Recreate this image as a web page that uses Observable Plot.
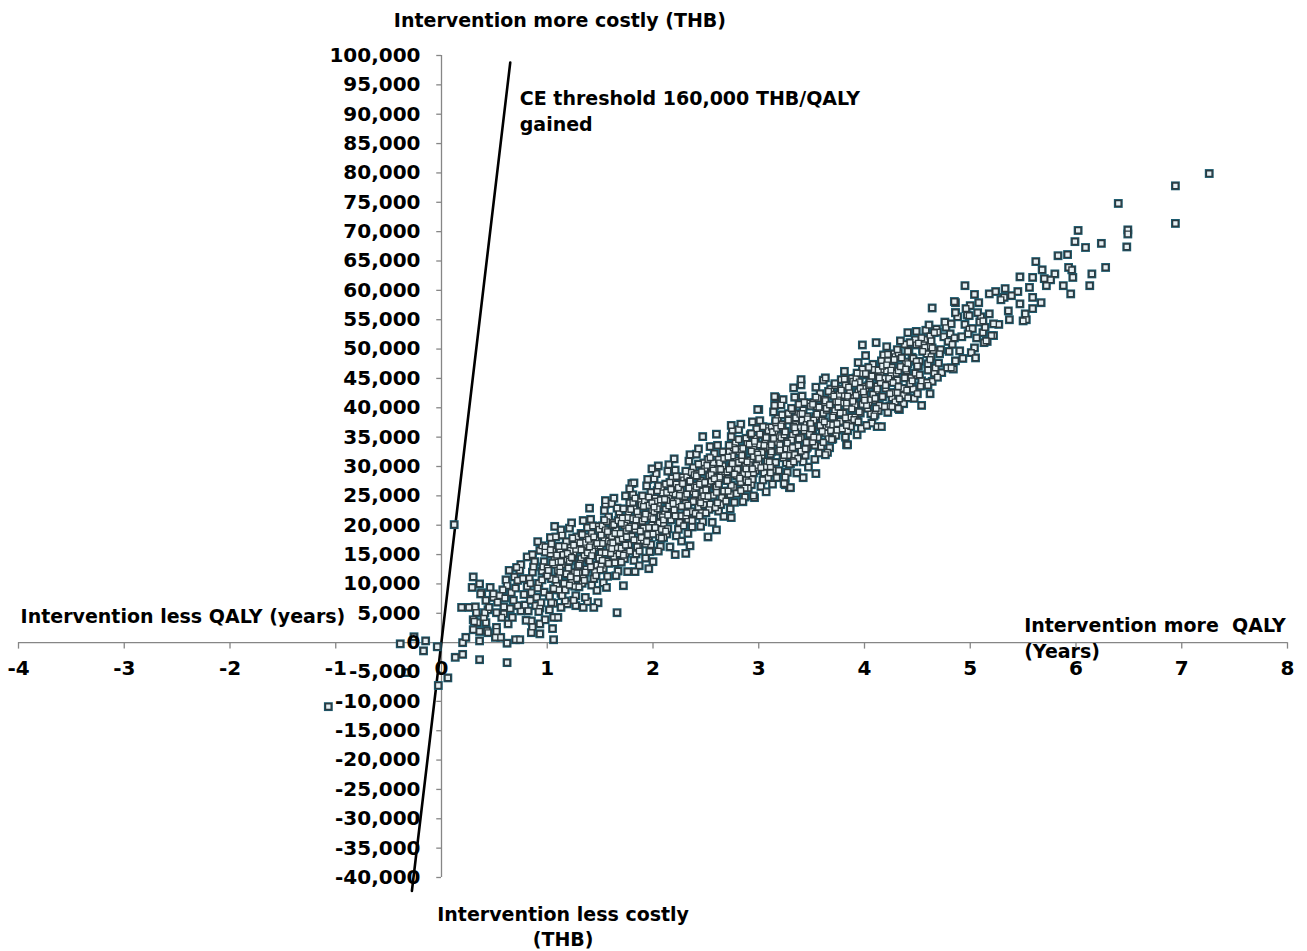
<!DOCTYPE html>
<html>
<head>
<meta charset="utf-8">
<script src="https://cdn.jsdelivr.net/npm/d3@7"></script>
<script src="https://cdn.jsdelivr.net/npm/@observablehq/plot@0.6"></script>
<style>
  html, body { margin: 0; padding: 0; background: #fff; }
  #chart svg { display: block; }
</style>
</head>
<body>
<div id="chart"></div>
<script>
// Incremental QALY (years) vs incremental cost (thousand THB)
const nearOrigin = [[-1.07,-10.9],[-0.39,-0.2],[-0.26,1.0],[-0.15,0.3],[-0.17,-1.4],[-0.04,-0.7],[0.06,-6.0],[-0.03,-7.3],[-0.34,-5.1],[0.13,-2.5],[0.2,-2.0],[0.36,-2.9],[0.62,-3.4],[0.12,20.1],[0.2,0.0],[0.23,0.9],[0.36,0.3],[0.51,0.9],[0.56,0.9],[0.62,-0.1],[0.7,0.5],[0.74,0.5],[1.06,0.5]];

const lowCloud = [[0.3,11.2],[0.36,10.0],[0.29,9.4],[0.38,8.5],[0.19,6.0],[0.26,6.0],[0.32,6.1],[0.33,5.1],[0.3,3.9],[0.34,3.4],[0.3,2.2],[0.36,1.9],[0.43,2.0],[0.42,3.4],[0.46,9.4],[0.49,7.7],[0.42,7.2],[0.44,5.6],[0.4,4.3],[0.52,2.6],[0.59,4.9],[0.63,3.2],[0.64,12.3],[0.61,10.7],[0.62,9.7],[0.69,11.2],[0.75,13.3],[0.81,14.6],[0.86,14.8],[0.93,15.7],[0.95,16.5],[0.91,17.2],[0.98,16.3],[1.03,17.9],[1.07,19.8],[1.08,18.0],[0.75,5.4],[0.72,6.3],[0.85,3.7],[0.86,2.7],[0.93,3.2],[0.98,3.9],[1.06,4.3],[1.1,4.3],[1.19,6.6],[1.27,6.3],[1.34,6.0],[1.38,7.0],[1.48,6.8],[1.44,6.0],[1.66,5.1],[1.05,2.4],[0.93,1.5],[0.85,1.7],[0.31,3.6],[0.37,8.3],[0.41,5.1],[0.44,1.7],[0.52,1.9],[0.57,4.3],[0.67,4.3],[0.45,6.0],[0.52,5.1],[0.59,6.1],[0.49,8.3],[0.55,8.0],[0.66,8.5],[0.72,10.6],[0.74,12.3],[1.13,19.2],[0.53,6.9],[0.58,9.0],[0.68,7.2],[0.7,9.3],[0.78,8.2],[0.77,10.9],[0.65,5.8],[0.79,6.4],[0.6,7.6],[0.71,12.8]];

const cloud1 = [
[0.81,9.6],[0.84,7.2],[0.86,12.0],[0.82,5.4],[0.88,13.8],[0.85,8.5],[0.83,10.9],[0.89,6.3],[0.87,12.9],[0.8,3.8],[0.86,15.0],[0.84,10.1],
[0.92,10.1],[0.95,12.2],[0.9,7.7],[0.97,13.8],[0.93,5.9],[0.99,11.4],[0.91,9.3],[0.96,12.9],[0.94,6.8],[0.98,15.4],[0.92,5.3],[0.95,10.7],[0.97,8.6],
[1.0,12.7],[1.04,10.9],[1.02,8.1],[1.07,14.4],[1.05,15.6],[1.09,9.7],[1.01,12.0],[1.06,6.7],[1.03,15.1],[1.08,9.0],[1.04,16.8],[1.0,11.4],[1.07,13.3],[1.02,5.6],[1.09,13.7],
[1.11,11.1],[1.14,13.3],[1.12,15.7],[1.16,9.7],[1.1,12.3],[1.18,17.2],[1.13,8.4],[1.19,14.2],[1.15,15.0],[1.11,9.0],[1.17,7.1],[1.14,18.3],[1.12,12.7],[1.19,11.6],[1.16,16.4],[1.13,6.0],
[1.21,13.9],[1.24,11.5],[1.22,16.2],[1.26,9.6],[1.28,18.0],[1.2,12.7],[1.25,15.0],[1.23,10.5],[1.29,17.1],[1.27,8.0],[1.21,19.5],[1.24,14.4],[1.26,12.0],[1.22,15.7],[1.28,10.9],[1.25,7.2],[1.23,20.4],
[1.32,14.3],[1.35,16.4],[1.3,11.9],[1.37,18.0],[1.33,10.1],[1.39,15.6],[1.31,13.5],[1.36,17.1],[1.34,11.0],[1.38,19.6],[1.3,9.5],[1.35,14.9],[1.33,15.8],[1.37,12.5],[1.32,18.6],[1.39,14.0],[1.34,20.8],[1.36,7.7],
[1.41,16.9],[1.43,15.1],[1.46,12.3],[1.42,18.6],[1.48,19.8],[1.4,13.9],[1.45,16.2],[1.44,10.9],[1.49,19.3],[1.47,13.2],[1.41,21.0],[1.43,15.6],[1.46,17.5],[1.42,9.8],[1.48,16.5],[1.45,12.1],[1.4,22.9],[1.47,8.9],
[1.51,15.3],[1.54,17.5],[1.52,19.9],[1.56,13.9],[1.5,16.5],[1.58,21.4],[1.53,12.6],[1.59,18.4],[1.55,19.2],[1.51,13.2],[1.57,11.3],[1.54,22.5],[1.52,16.9],[1.59,15.8],[1.56,20.6],[1.53,10.2],[1.58,17.3],[1.55,23.6],
[1.61,18.1],[1.64,15.7],[1.62,20.4],[1.66,13.8],[1.68,22.2],[1.6,16.9],[1.65,19.2],[1.63,14.7],[1.69,21.3],[1.67,12.2],[1.61,23.7],[1.64,18.6],[1.66,16.2],[1.62,19.9],[1.68,15.1],[1.65,11.4],[1.63,24.6],[1.67,17.4],
[1.72,18.5],[1.75,20.6],[1.7,16.1],[1.77,22.2],[1.73,14.3],[1.79,19.8],[1.71,17.7],[1.76,21.3],[1.74,15.2],[1.78,23.8],[1.7,13.7],[1.75,19.1],[1.73,20.0],[1.77,16.7],[1.72,22.8],[1.79,18.2],[1.74,25.0],[1.76,12.1],
[1.81,21.1],[1.83,19.3],[1.86,16.5],[1.82,22.8],[1.88,24.0],[1.8,18.1],[1.85,20.4],[1.84,15.1],[1.89,23.5],[1.87,17.4],[1.81,25.2],[1.83,19.8],[1.86,21.7],[1.82,14.0],[1.88,20.7],[1.85,16.3],[1.8,27.1],[1.87,13.1],
[1.91,19.5],[1.94,21.7],[1.92,24.1],[1.96,18.1],[1.9,20.7],[1.98,25.6],[1.93,16.8],[1.99,22.6],[1.95,23.4],[1.91,17.4],[1.97,15.5],[1.94,26.7],[1.92,21.1],[1.99,20.0],[1.96,24.8],[1.93,14.4],[1.98,21.5],[1.95,27.8]
];

const cloud2 = [
[2.01,22.3],[2.04,19.9],[2.02,24.6],[2.06,18.0],[2.08,26.4],[2.0,21.1],[2.05,23.4],[2.03,18.9],[2.09,25.5],[2.07,16.4],[2.01,27.9],[2.04,22.8],[2.06,20.4],[2.02,24.1],[2.08,19.3],[2.05,15.6],[2.03,28.8],[2.07,21.6],[2.0,13.8],
[2.12,22.7],[2.15,24.8],[2.1,20.3],[2.17,26.4],[2.13,18.5],[2.19,24.0],[2.11,21.9],[2.16,25.5],[2.14,19.4],[2.18,28.0],[2.1,17.9],[2.15,23.3],[2.13,24.2],[2.17,20.9],[2.12,27.0],[2.19,22.4],[2.14,29.2],[2.16,16.3],
[2.21,25.3],[2.23,23.5],[2.26,20.7],[2.22,27.0],[2.28,28.2],[2.2,22.3],[2.25,24.6],[2.24,19.3],[2.29,27.7],[2.27,21.6],[2.21,29.4],[2.23,24.0],[2.26,25.9],[2.22,18.2],[2.28,24.9],[2.25,20.5],[2.2,31.3],[2.27,17.3],
[2.31,23.7],[2.34,25.9],[2.32,28.3],[2.36,22.3],[2.3,24.9],[2.38,29.8],[2.33,21.0],[2.39,26.8],[2.35,27.6],[2.31,21.6],[2.37,19.7],[2.34,30.9],[2.32,25.3],[2.39,24.2],[2.36,29.0],[2.33,18.6],[2.38,25.7],[2.35,32.0],
[2.41,26.5],[2.44,24.1],[2.42,28.8],[2.46,22.2],[2.48,30.6],[2.4,25.3],[2.45,27.6],[2.43,23.1],[2.49,29.7],[2.47,20.6],[2.41,32.1],[2.44,27.0],[2.46,24.6],[2.42,28.3],[2.48,23.5],[2.45,19.8],[2.43,33.0],[2.47,25.8],
[2.52,26.9],[2.55,29.0],[2.5,24.5],[2.57,30.6],[2.53,22.7],[2.59,28.2],[2.51,26.1],[2.56,29.7],[2.54,23.6],[2.58,32.2],[2.5,22.1],[2.55,27.5],[2.53,28.4],[2.57,25.1],[2.52,31.2],[2.59,26.6],[2.54,33.4],[2.56,20.5],
[2.61,29.5],[2.63,27.7],[2.66,24.9],[2.62,31.2],[2.68,32.4],[2.6,26.5],[2.65,28.8],[2.64,23.5],[2.69,31.9],[2.67,25.8],[2.61,33.6],[2.63,28.2],[2.66,30.1],[2.62,22.4],[2.68,29.1],[2.65,24.7],[2.6,35.5],[2.67,21.5],
[2.71,27.9],[2.74,30.1],[2.72,32.5],[2.76,26.5],[2.7,29.1],[2.78,34.0],[2.73,25.2],[2.79,31.0],[2.75,31.8],[2.71,25.8],[2.77,23.9],[2.74,35.1],[2.72,29.5],[2.79,28.4],[2.76,33.2],[2.73,22.8],[2.78,29.9],[2.75,36.2],
[2.81,30.7],[2.84,28.3],[2.82,33.0],[2.86,26.4],[2.88,34.8],[2.8,29.5],[2.85,31.8],[2.83,27.3],[2.89,33.9],[2.87,24.8],[2.81,36.3],[2.84,31.2],[2.86,28.8],[2.82,32.5],[2.88,27.7],[2.85,24.0],[2.83,37.2],[2.87,30.0],
[2.92,31.1],[2.95,33.2],[2.9,28.7],[2.97,34.8],[2.93,26.9],[2.99,32.4],[2.91,30.3],[2.96,33.9],[2.94,27.8],[2.98,36.4],[2.9,26.3],[2.95,31.7],[2.93,32.6],[2.97,29.3],[2.92,35.4],[2.99,30.8],[2.94,37.6],[2.96,24.7]
];

const cloud3 = [
[3.01,33.7],[3.03,31.9],[3.06,29.1],[3.02,35.4],[3.08,36.6],[3.0,30.7],[3.05,33.0],[3.04,27.7],[3.09,36.1],[3.07,30.0],[3.01,37.8],[3.03,32.4],[3.06,34.3],[3.02,26.6],[3.08,33.3],[3.05,28.9],[3.0,39.7],[3.07,25.7],
[3.11,32.1],[3.14,34.3],[3.12,36.7],[3.16,30.7],[3.1,33.3],[3.18,38.2],[3.13,29.4],[3.19,35.2],[3.15,36.0],[3.11,30.0],[3.17,28.1],[3.14,39.3],[3.12,33.7],[3.19,32.6],[3.16,37.4],[3.13,27.0],[3.18,34.1],[3.15,40.4],
[3.21,34.9],[3.24,32.5],[3.22,37.2],[3.26,30.6],[3.28,39.0],[3.2,33.7],[3.25,36.0],[3.23,31.5],[3.29,38.1],[3.27,29.0],[3.21,40.5],[3.24,35.4],[3.26,33.0],[3.22,36.7],[3.28,31.9],[3.25,28.2],[3.23,41.4],[3.27,34.2],
[3.32,35.3],[3.35,37.4],[3.3,32.9],[3.37,39.0],[3.33,31.1],[3.39,36.6],[3.31,34.5],[3.36,38.1],[3.34,32.0],[3.38,40.6],[3.3,30.5],[3.35,35.9],[3.33,36.8],[3.37,33.5],[3.32,39.6],[3.39,35.0],[3.34,41.8],[3.36,28.9],
[3.41,37.9],[3.43,36.1],[3.46,33.3],[3.42,39.6],[3.48,40.8],[3.4,34.9],[3.45,37.2],[3.44,31.9],[3.49,40.3],[3.47,34.2],[3.41,42.0],[3.43,36.6],[3.46,38.5],[3.42,30.8],[3.48,37.5],[3.45,33.1],[3.4,43.9],[3.47,29.9],
[3.51,36.3],[3.54,38.5],[3.52,40.9],[3.56,34.9],[3.5,37.5],[3.58,42.4],[3.53,33.6],[3.59,39.4],[3.55,40.2],[3.51,34.2],[3.57,32.3],[3.54,43.5],[3.52,37.9],[3.59,36.8],[3.56,41.6],[3.53,31.2],
[3.61,39.1],[3.64,36.7],[3.62,41.4],[3.66,34.8],[3.68,43.2],[3.6,37.9],[3.65,40.2],[3.63,35.7],[3.69,42.3],[3.67,33.2],[3.61,44.7],[3.64,39.6],[3.66,37.2],[3.62,40.9],[3.68,36.1],[3.65,32.4],
[3.72,39.5],[3.75,41.6],[3.7,37.1],[3.77,43.2],[3.73,35.3],[3.79,40.8],[3.71,38.7],[3.76,42.3],[3.74,36.2],[3.78,44.8],[3.7,34.7],[3.75,40.1],[3.73,41.0],[3.77,37.7],[3.72,43.8],[3.79,39.2],
[3.81,42.1],[3.83,40.3],[3.86,37.5],[3.82,43.8],[3.88,45.0],[3.8,39.1],[3.85,41.4],[3.84,36.1],[3.89,44.5],[3.87,38.4],[3.81,46.2],[3.83,40.8],[3.86,42.7],[3.82,35.0],[3.88,41.7],[3.85,37.3],
[3.91,40.5],[3.94,42.7],[3.92,45.1],[3.96,39.1],[3.9,41.7],[3.98,46.6],[3.93,37.8],[3.99,43.6],[3.95,44.4],[3.91,38.4],[3.97,36.5],[3.94,47.7],[3.92,42.1],[3.99,41.0],[3.96,45.8],[3.93,35.4]
];

const cloud4 = [
[4.01,43.3],[4.04,40.9],[4.02,45.6],[4.06,39.0],[4.08,47.4],[4.0,42.1],[4.05,44.4],[4.03,39.9],[4.09,46.5],[4.07,37.4],[4.01,48.9],[4.04,43.8],[4.06,41.4],[4.02,37.0],
[4.12,43.7],[4.15,45.8],[4.1,41.3],[4.17,47.4],[4.13,39.5],[4.19,45.0],[4.11,42.9],[4.16,46.5],[4.14,40.4],[4.18,49.0],[4.1,38.9],[4.15,44.3],[4.13,45.2],[4.17,41.9],
[4.21,46.3],[4.23,44.5],[4.26,41.7],[4.22,48.0],[4.28,49.2],[4.2,43.3],[4.25,45.6],[4.24,40.3],[4.29,48.7],[4.27,42.6],[4.21,50.4],[4.23,45.0],[4.26,46.9],[4.22,39.2],
[4.31,44.7],[4.34,46.9],[4.32,49.3],[4.36,43.3],[4.3,45.9],[4.38,50.8],[4.33,42.0],[4.39,47.8],[4.35,48.6],[4.31,42.6],[4.37,40.7],[4.34,51.4],[4.32,46.3],[4.39,45.2],
[4.41,47.5],[4.44,45.1],[4.42,49.8],[4.46,43.2],[4.48,51.6],[4.4,46.3],[4.45,48.6],[4.43,44.1],[4.49,50.7],[4.47,41.6],[4.41,52.8],
[4.52,47.9],[4.55,50.0],[4.5,45.5],[4.57,51.6],[4.53,43.7],[4.59,49.2],[4.51,47.1],[4.56,50.7],[4.54,44.6],[4.58,53.2],[4.5,42.4],
[4.61,50.5],[4.63,48.7],[4.66,45.9],[4.62,52.2],[4.68,53.4],[4.6,47.5],[4.65,49.8],[4.64,44.5],[4.69,52.9],[4.67,46.8],[4.61,54.1],
[4.72,49.9],[4.75,52.1],[4.7,47.6],[4.77,53.7],[4.73,46.0],[4.79,51.3],[4.71,49.2],[4.76,54.6],
[4.81,52.6],[4.83,50.8],[4.86,48.0],[4.82,54.3],[4.88,55.5],[4.8,49.6],[4.85,51.9],[4.84,46.6],
[4.92,52.1],[4.95,54.2],[4.9,49.7],[4.97,55.8],[4.93,48.4],[4.99,53.4],
[5.02,53.5],[5.06,51.9],[5.1,55.5],[5.04,50.2],[5.12,52.8],[5.08,57.9],[4.98,52.6],[5.14,53.7],[5.01,49.4],[5.09,54.6]
];

const cloudCore = [
[1.02,7.9],[1.05,13.6],[1.08,10.7],[1.03,15.8],[1.06,9.2],[1.01,12.3],[1.09,14.9],[1.04,6.8],
[1.13,13.8],[1.16,10.1],[1.11,16.4],[1.18,11.7],[1.14,8.0],[1.19,15.2],[1.12,12.0],[1.17,9.0],
[1.22,11.2],[1.27,15.9],[1.24,17.8],[1.21,9.8],[1.29,13.0],[1.25,16.6],[1.23,14.5],[1.28,11.9],
[1.31,17.0],[1.36,12.0],[1.33,18.4],[1.38,15.3],[1.3,13.2],[1.35,10.6],[1.39,17.6],[1.32,15.8],
[1.44,18.0],[1.41,12.9],[1.47,16.9],[1.43,19.9],[1.49,14.4],[1.4,16.3],[1.46,11.4],[1.42,14.8],
[1.52,14.0],[1.57,18.9],[1.54,20.9],[1.5,12.4],[1.59,16.2],[1.55,15.3],[1.51,18.3],[1.58,13.5],
[1.63,20.1],[1.6,15.2],[1.66,22.9],[1.62,17.0],[1.69,18.6],[1.64,13.6],[1.67,20.8],[1.61,16.0],
[1.71,21.2],[1.74,16.6],[1.77,19.5],[1.72,14.9],[1.79,22.7],[1.75,18.0],[1.7,20.3],[1.78,15.6],
[1.82,17.5],[1.85,22.3],[1.88,19.0],[1.81,23.9],[1.87,15.6],[1.84,20.9],[1.89,17.9],[1.83,24.6],
[1.91,23.2],[1.95,18.4],[1.93,21.9],[1.98,16.7],[1.9,25.0],[1.96,19.6],[1.99,23.8],[1.94,17.2],
[2.02,19.6],[2.07,24.3],[2.04,25.9],[2.0,18.5],[2.09,21.4],[2.05,26.7],[2.01,23.1],[2.08,17.8],
[2.13,25.6],[2.1,20.9],[2.16,27.3],[2.12,19.0],[2.19,23.7],[2.14,21.7],[2.17,26.1],[2.11,24.4],
[2.21,21.6],[2.24,26.4],[2.27,23.2],[2.22,28.3],[2.29,19.9],[2.25,25.1],[2.2,22.6],[2.28,27.1],
[2.32,22.1],[2.35,27.5],[2.38,24.0],[2.31,29.2],[2.37,20.8],[2.34,26.3],[2.39,28.6],[2.33,23.4],
[2.41,28.4],[2.45,23.8],[2.43,30.4],[2.48,25.0],[2.4,22.0],[2.46,29.1],[2.49,27.3],[2.44,21.6],
[2.52,24.9],[2.57,29.4],[2.54,31.5],[2.5,26.0],[2.59,23.0],[2.55,28.6],[2.51,30.2],[2.58,27.9],
[2.63,30.6],[2.6,25.6],[2.66,32.5],[2.62,27.0],[2.69,24.1],[2.64,29.5],[2.67,31.4],[2.61,23.8],
[2.71,31.6],[2.74,26.8],[2.77,28.7],[2.72,33.6],[2.79,25.4],[2.75,30.5],[2.7,27.6],[2.78,32.9],
[2.82,28.0],[2.85,33.1],[2.88,29.6],[2.81,34.6],[2.87,26.3],[2.84,31.9],[2.89,30.8],[2.83,25.9],
[2.91,33.8],[2.95,28.9],[2.93,35.6],[2.98,30.2],[2.9,27.4],[2.96,34.3],[2.99,32.1],[2.94,29.6],
[3.02,29.8],[3.07,34.9],[3.04,36.8],[3.0,31.4],[3.09,28.1],[3.05,33.6],[3.01,35.5],[3.08,30.9],
[3.13,35.9],[3.1,30.8],[3.16,37.8],[3.12,32.5],[3.19,29.3],[3.14,34.8],[3.17,36.5],[3.11,28.9],
[3.21,36.9],[3.24,31.9],[3.27,34.0],[3.22,38.8],[3.29,30.4],[3.25,35.9],[3.2,32.8],[3.28,37.9],
[3.32,33.2],[3.35,38.3],[3.38,34.7],[3.31,39.9],[3.37,31.4],[3.34,36.6],[3.39,38.9],[3.33,30.8],
[3.41,39.0],[3.45,34.1],[3.43,40.9],[3.48,35.5],[3.4,32.6],[3.46,38.1],[3.49,37.3],[3.44,33.0],
[3.52,35.0],[3.57,40.1],[3.54,41.8],[3.5,36.4],[3.59,33.4],[3.55,38.9],[3.51,40.6],[3.58,37.0],
[3.63,41.2],[3.6,36.0],[3.66,42.8],[3.62,37.6],[3.69,34.6],[3.64,39.9],[3.67,40.5],[3.61,34.1],
[3.71,42.0],[3.74,37.3],[3.77,39.1],[3.72,44.1],[3.79,36.4],[3.75,41.0],[3.7,38.4],[3.78,43.0],
[3.82,38.3],[3.85,43.5],[3.88,39.8],[3.81,44.9],[3.87,36.8],[3.84,42.0],[3.89,41.1],[3.83,37.0],
[3.91,44.1],[3.95,39.3],[3.93,45.9],[3.98,40.6],[3.9,38.0],[3.96,43.3],[3.99,42.7],[3.94,37.6],
[4.02,40.4],[4.07,45.4],[4.04,46.9],[4.0,41.3],[4.09,38.6],[4.05,44.0],[4.01,45.8],[4.08,42.3],
[4.13,46.4],[4.1,41.6],[4.16,48.0],[4.12,43.2],[4.19,40.2],[4.14,45.1],[4.17,47.1],[4.11,39.9],
[4.21,47.3],[4.24,42.4],[4.27,44.3],[4.22,49.1],[4.29,41.0],[4.25,46.4],[4.2,43.8],[4.28,48.2],
[4.32,43.6],[4.35,48.5],[4.38,45.1],[4.31,49.9],[4.37,42.1],[4.34,47.0],[4.39,46.6],[4.33,41.5],
[4.41,49.6],[4.45,44.6],[4.43,51.1],[4.48,45.9],[4.4,43.0],[4.46,48.4],[4.49,47.9],
[4.52,45.6],[4.57,50.3],[4.54,51.9],[4.5,47.1],[4.59,44.3],[4.55,49.6],[4.51,51.0],
[4.63,51.4],[4.6,46.4],[4.66,52.8],[4.62,48.2],[4.69,45.2],[4.64,50.2]
];

const cloudEdges = [[3.98,50.7],[3.16,41.7],[3.4,44.8],[4.54,40.4],[4.33,39.7],[4.26,40.2],[4.62,42.4],[4.6,43.8],[4.12,36.8],[4.16,36.8],[3.83,33.7],[3.63,32.0],[3.54,28.8],[3.29,26.4],[3.25,26.9],[2.95,25.0],[2.52,18.0],[2.6,19.2],[2.99,39.7],[4.64,57.0],[4.86,57.9],[4.86,56.2],[3.15,41.9],[2.74,37.0],[2.47,35.1],[1.99,29.6],[2.05,30.1],[2.15,30.3],[1.82,27.2],[1.78,26.2],[1.55,24.2],[3.3,26.4],[2.74,21.3],[2.35,16.5],[2.31,15.2],[2.21,15.0],[1.96,12.6],[1.83,12.1],[1.72,9.7],[1.56,9.4],[4.11,51.1],[4.49,53.0],[3.63,45.1],[3.33,43.4],[4.41,41.7],[4.32,39.9],[3.24,27.1],[3.42,28.1],[4.78,46.8],[4.82,46.8],[5.16,51.3],[5.22,52.3],[3.84,33.7]];

const upperTail = [[7.26,79.9],[6.94,77.8],[6.94,71.4],[6.4,74.8],[6.49,70.3],[6.49,69.6],[6.48,67.4],[6.24,68.0],[6.28,63.9],[6.15,62.8],[6.13,60.8],[6.02,70.2],[5.99,68.3],[6.09,67.3],[5.92,66.1],[5.83,65.9],[5.62,64.9],[5.68,63.5],[5.93,63.9],[5.96,63.5],[5.97,62.2],[5.8,62.8],[5.7,62.0],[5.76,61.8],[5.72,60.8],[5.88,60.8],[5.95,59.4],[5.47,62.3],[5.59,62.2],[4.95,60.8],[5.04,59.3],[4.85,58.1],[4.86,56.2],[5.67,57.9],[5.56,60.5],[5.59,58.8],[5.52,56.0],[5.59,56.9],[5.13,51.1],[5.05,48.5],[5.27,54.2],[5.45,59.8],[5.33,60.3],[5.24,59.8],[5.18,59.4],[5.39,59.1],[5.47,57.7],[5.53,55.0],[5.5,54.8],[5.36,56.5],[5.37,55.0],[5.2,52.3],[5.15,51.4],[5.0,57.4],[4.96,56.9],[5.07,56.2],[4.99,55.7],[5.12,54.8],[5.18,56.0],[5.22,54.3],[5.32,58.8],[5.29,58.4]];

// CE threshold line (160,000 THB/QALY) endpoints as drawn: [QALY, thousand THB]
const thresholdLine = [[-0.28,-42.3],[0.65,98.8]];

const xTicks = [-4,-3,-2,-1,0,1,2,3,4,5,6,7,8];
const yTicks = [-40000,-35000,-30000,-25000,-20000,-15000,-10000,-5000,0,5000,10000,15000,20000,25000,30000,35000,40000,45000,50000,55000,60000,65000,70000,75000,80000,85000,90000,95000,100000];

const startLabels = [
  {x: 0.74, y: 92600, text: "CE threshold 160,000 THB/QALY"},
  {x: 0.74, y: 88100, text: "gained"},
  {x: -3.98, y: 4300, text: "Intervention less QALY (years)"},
  {x: 5.51, y: 2900, text: "Intervention more \u00a0QALY"},
  {x: 5.51, y: -1500, text: "(Years)"}
];
const middleLabels = [
  {x: 1.12, y: 105900, text: "Intervention more costly (THB)"},
  {x: 1.15, y: -46300, text: "Intervention less costly"},
  {x: 1.15, y: -50700, text: "(THB)"}
];

const points = [...nearOrigin, ...lowCloud, ...cloud1, ...cloud2, ...cloud3, ...cloud4, ...cloudCore, ...cloudEdges, ...upperTail];
const fmtY = n => (n < 0 ? "-" : "") + d3.format(",")(Math.abs(n));
const fmtX = n => (n < 0 ? "-" : "") + Math.abs(n);
const axisColor = "#868686";

const chart = Plot.plot({
  width: 1307,
  height: 951,
  marginLeft: 18,
  marginRight: 20,
  marginTop: 55,
  marginBottom: 74,
  x: {domain: [-4, 8], axis: null},
  y: {domain: [-40000, 100000], axis: null},
  style: {fontFamily: "'DejaVu Sans', sans-serif", fontWeight: "bold", fontSize: "19px", background: "#fff", color: "#000"},
  marks: [
    Plot.ruleY([0], {x1: -4, x2: 8, stroke: axisColor, strokeWidth: 1.3}),
    Plot.ruleX([0], {y1: -40000, y2: 100000, stroke: axisColor, strokeWidth: 1.3}),
    Plot.ruleX(xTicks, {x: d => d, y1: 0, y2: -1100, stroke: axisColor, strokeWidth: 1.3}),
    Plot.ruleY(yTicks, {y: d => d, x1: -0.045, x2: 0, stroke: axisColor, strokeWidth: 1.3}),
    Plot.line(thresholdLine, {x: d => d[0], y: d => d[1] * 1000, stroke: "#000", strokeWidth: 2.6}),
    // teal halo under each marker (fills the gaps in the dense cloud like the original)
    Plot.dot(points, {x: d => d[0], y: d => d[1] * 1000, symbol: "square", r: 5.0, fill: "#1b5a6e", stroke: "none"}),
    Plot.dot(points, {x: d => d[0], y: d => d[1] * 1000, symbol: "square", r: 3.2, fill: "#e6f0f4", stroke: "#2c3a40", strokeWidth: 1.4}),
    Plot.text(xTicks, {x: d => d, y: 0, dy: 26, text: fmtX, fill: "#000", fontSize: 20}),
    Plot.text(yTicks, {x: 0, y: d => d, dx: -21, textAnchor: "end", text: fmtY, fill: "#000", fontSize: 20}),
    Plot.text(startLabels, {x: "x", y: "y", text: "text", textAnchor: "start", fill: "#000"}),
    Plot.text(middleLabels, {x: "x", y: "y", text: "text", textAnchor: "middle", fill: "#000"})
  ]
});
document.getElementById("chart").appendChild(chart);
</script>
</body>
</html>
